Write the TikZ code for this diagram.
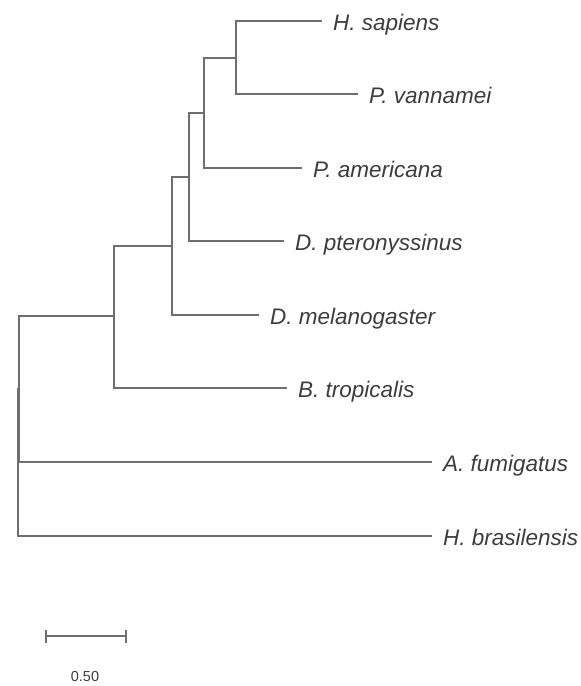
\documentclass[tikz,border=0pt]{standalone}
\usepackage{fontspec}
\setmainfont{Liberation Sans}
\definecolor{treeline}{RGB}{110,110,110}
\definecolor{taxon}{RGB}{60,60,60}
\usetikzlibrary{arrows.meta,positioning}

\begin{document}
\begin{tikzpicture}[x=1pt,y=-1pt,
      branch/.style={treeline,line width=2pt,line cap=rect},
      leaf/.style={anchor=west,inner xsep=12pt,inner ysep=0pt,text height=21pt,text depth=2pt,
        text=taxon,font=\fontsize{22.5}{27}\selectfont\itshape},
      scalelabel/.style={text=taxon,font=\fontsize{14.5}{16}\selectfont}
    ]
      \useasboundingbox (0,0) rectangle (581,686);
      % Taxon labels (west anchor = end of branch)
      \node[leaf] (hsap) at (321,21)  {H. sapiens};
      \node[leaf] (pvan) at (357,94)  {P. vannamei};
      \node[leaf] (pame) at (301,168) {P. americana};
      \node[leaf] (dpte) at (283,241) {D. pteronyssinus};
      \node[leaf] (dmel) at (258,315) {D. melanogaster};
      \node[leaf] (btro) at (286,388) {B. tropicalis};
      \node[leaf] (afum) at (431,462) {A. fumigatus};
      \node[leaf] (hbra) at (431,536) {H. brasilensis};
      % Internal nodes
      \coordinate (n1) at (236,57.5);
      \coordinate (n2) at (204,112.5);
      \coordinate (n3) at (189,177);
      \coordinate (n4) at (172,246);
      \coordinate (n5) at (114,316);
      \coordinate (n6) at (19,389);
      \coordinate (root) at (17.5,462.5);
      % Branches
      \draw[branch] (n1) |- (hsap.west);
      \draw[branch] (n1) |- (pvan.west);
      \draw[branch] (n2) |- (n1);
      \draw[branch] (n2) |- (pame.west);
      \draw[branch] (n3) |- (n2);
      \draw[branch] (n3) |- (dpte.west);
      \draw[branch] (n4) |- (n3);
      \draw[branch] (n4) |- (dmel.west);
      \draw[branch] (n5) |- (n4);
      \draw[branch] (n5) |- (btro.west);
      \draw[branch] (n6) |- (n5);
      \draw[branch] (n6) |- (afum.west);
      \draw[branch] (root) |- (n6);
      \draw[branch] (root) |- (hbra.west);
      % Scale bar
      \coordinate (sbl) at (45,636);
      \coordinate (sbr) at (127,636);
      \draw[treeline,line width=1.7pt,{Bar[width=13pt]}-{Bar[width=13pt]}] (sbl) -- (sbr);
      \node[scalelabel] (sblab) at (85,676) {0.50};
    \end{tikzpicture}
\end{document}
